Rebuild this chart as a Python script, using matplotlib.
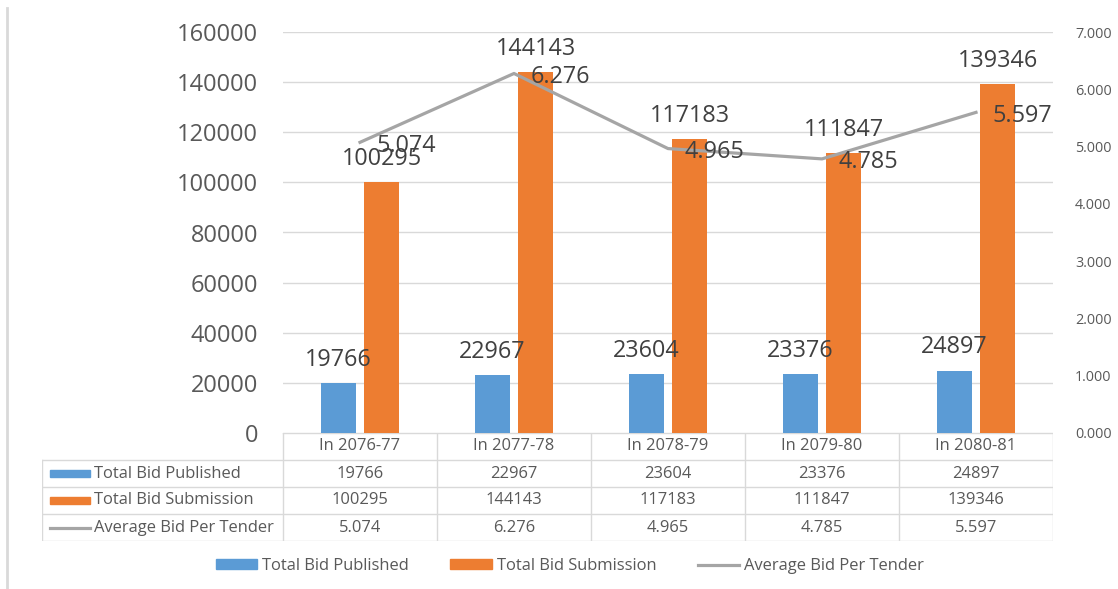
import matplotlib.pyplot as plt
from matplotlib.lines import Line2D
from matplotlib.patches import Patch, Rectangle
import numpy as np

plt.rcParams['font.family'] = ['Open Sans', 'DejaVu Sans']

# data
years = ["In 2076-77", "In 2077-78", "In 2078-79", "In 2079-80", "In 2080-81"]
published = [19766, 22967, 23604, 23376, 24897]
submission = [100295, 144143, 117183, 111847, 139346]
avg_bid = [5.074, 6.276, 4.965, 4.785, 5.597]
series_names = ["Total Bid Published", "Total Bid Submission", "Average Bid Per Tender"]

blue = "#5B9BD5"
orange = "#ED7D31"
gray = "#A5A5A5"
grid = "#D9D9D9"
tick_col = "#595959"
lab_col = "#404040"

W, H = 1118, 589
fig = plt.figure(figsize=(W / 100, H / 100), dpi=100)

# plot area in pixels: x 283..1053, y 32..433
L, R, T, B = 283, 1053, 32, 433
ax = fig.add_axes([L / W, 1 - B / H, (R - L) / W, (B - T) / H])
ax2 = ax.twinx()

x = np.arange(len(years))
bw = 0.227
off = 0.14

ax.bar(x - off, published, bw, color=blue, zorder=2)
ax.bar(x + off, submission, bw, color=orange, zorder=2)

for xi, v in zip(x, published):
    ax.annotate(str(v), (xi - off, v), xytext=(0, 8), textcoords="offset points",
                ha="center", va="bottom", fontsize=16.8, color=lab_col, zorder=5)
for xi, v in zip(x, submission):
    ax.annotate(str(v), (xi + off, v), xytext=(0, 8), textcoords="offset points",
                ha="center", va="bottom", fontsize=16.8, color=lab_col, zorder=5)

ax.set_xlim(-0.5, len(years) - 0.5)
ax.set_ylim(0, 160000)
ax.set_yticks(range(0, 160001, 20000))
ax.set_xticks([])
ax.grid(axis="y", color=grid, linewidth=1, zorder=0)
ax.set_axisbelow(True)
ax.tick_params(axis="y", length=0, pad=18, labelsize=17, labelcolor=tick_col)
for s in ax.spines.values():
    s.set_visible(False)

ax2.plot(x, avg_bid, color=gray, linewidth=2.3, zorder=3)
for xi, v in zip(x, avg_bid):
    ax2.annotate(f"{v:.3f}", (xi, v), xytext=(12, -2.5), textcoords="offset points",
                 ha="left", va="center", fontsize=16.8, color=lab_col, zorder=5)
ax2.set_ylim(0, 7)
ax2.set_yticks(range(0, 8))
ax2.set_yticklabels([f"{t:.3f}" for t in range(0, 8)])
ax2.tick_params(axis="y", length=0, pad=16, labelsize=10.4, labelcolor=tick_col)
for s in ax2.spines.values():
    s.set_visible(False)

# data table under the plot
TL, TB = 42, 541
tab = fig.add_axes([TL / W, 1 - TB / H, (R - TL) / W, (TB - B) / H])
colw = (R - L) / len(years)
x0 = -0.5 - (L - TL) / colw
tab.set_xlim(x0, len(years) - 0.5)
tab.set_ylim(4, 0)
tab.axis("off")

lk = dict(color=grid, linewidth=1)
tab.plot([-0.5, len(years) - 0.5], [0, 0], **lk)
for r in range(1, 5):
    tab.plot([x0, len(years) - 0.5], [r, r], **lk)
tab.plot([x0, x0], [1, 4], **lk)
for i in range(len(years) + 1):
    tab.plot([i - 0.5, i - 0.5], [0, 4], **lk)

fs = 11.9
for i, yr in enumerate(years):
    tab.text(i, 0.5, yr, ha="center", va="center", fontsize=fs, color=tick_col)
rows = [[str(v) for v in published], [str(v) for v in submission], [f"{v:.3f}" for v in avg_bid]]
for r, vals in enumerate(rows):
    for i, v in enumerate(vals):
        tab.text(i, r + 1.5, v, ha="center", va="center", fontsize=fs, color=tick_col)

kx0 = x0 + 8 / colw
kx1 = x0 + 48 / colw
tab.add_patch(Rectangle((kx0, 1.5 - 0.13), kx1 - kx0, 0.26, color=blue))
tab.add_patch(Rectangle((kx0, 2.5 - 0.13), kx1 - kx0, 0.26, color=orange))
tab.plot([kx0, kx1], [3.5, 3.5], color=gray, linewidth=2.3)
for r, name in enumerate(series_names):
    tab.text(kx1 + 4 / colw, r + 1.5, name, ha="left", va="center", fontsize=fs, color=tick_col)

# bottom legend
handles = [Patch(color=blue), Patch(color=orange), Line2D([], [], color=gray, linewidth=2.3)]
fig.legend(handles, series_names, loc="center", bbox_to_anchor=(570 / W, 1 - 566 / H),
           ncol=3, frameon=False, fontsize=fs, handlelength=2.5, handleheight=0.5,
           handletextpad=0.3, columnspacing=2.5, labelcolor=tick_col)

# left border line of the frame
fig.add_artist(Line2D([7 / W, 7 / W], [0, 1 - 8 / H], color=grid, linewidth=2))

fig.savefig("out.png", dpi=100)
